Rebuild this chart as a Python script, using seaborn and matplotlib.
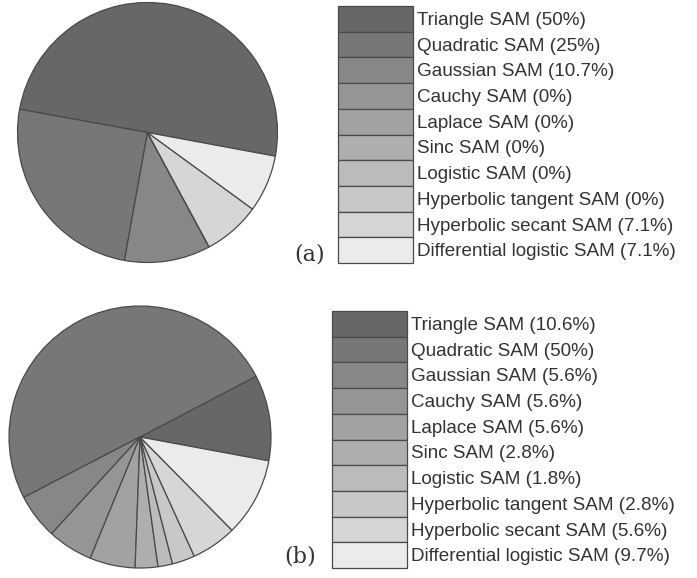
import matplotlib
matplotlib.use("Agg")
import matplotlib.pyplot as plt
import seaborn as sns

methods = ["Triangle SAM", "Quadratic SAM", "Gaussian SAM", "Cauchy SAM",
           "Laplace SAM", "Sinc SAM", "Logistic SAM",
           "Hyperbolic tangent SAM", "Hyperbolic secant SAM",
           "Differential logistic SAM"]
share_a = [50, 25, 10.7, 0, 0, 0, 0, 0, 7.1, 7.1]
share_b = [10.6, 50, 5.6, 5.6, 5.6, 2.8, 1.8, 2.8, 5.6, 9.7]
panel_tags = ["(a)", "(b)"]

sns.set_theme(style="white")
plt.rcParams["font.family"] = ["Liberation Sans", "DejaVu Sans"]

grays = ["#676767", "#777777", "#878787", "#959595", "#a2a2a2",
         "#aeaeae", "#bbbbbb", "#c8c8c8", "#d6d6d6", "#ebebeb"]
edge = "#4a4a4a"

W, H = 697, 578
fig = plt.figure(figsize=(W / 100, H / 100), dpi=100)

def fx(px):
    return px / W

def fy(py):
    return 1 - py / H

panels = [
    # center x, center y, radius, legend left, legend top, tag x, tag y
    (share_a, 147.5, 132.5, 130, 338, 6, 310, 255),
    (share_b, 140, 437, 131, 332, 311, 300, 557),
]

for (vals, cx, cy, r, lx, ly, tx, ty), tag in zip(panels, panel_tags):
    ax = fig.add_axes([fx(cx - r), fy(cy + r), (2 * r) / W, (2 * r) / H])
    wedges, _ = ax.pie(vals, colors=grays, startangle=-10.5, counterclock=True,
                       wedgeprops=dict(edgecolor=edge, linewidth=0.9))
    ax.set_xlim(-1.0, 1.0)
    ax.set_ylim(-1.0, 1.0)
    ax.set_aspect("equal")
    ax.axis("off")
    labels = [f"{m} ({v:g}%)" for m, v in zip(methods, vals)]
    fs = 13.6
    fs_px = fs * 100 / 72
    row_px = 25.7
    hh = (row_px / fs_px - 0.245) / 0.65
    ax.legend(wedges, labels, loc="upper left",
              bbox_to_anchor=(fx(lx), fy(ly)), bbox_transform=fig.transFigure,
              frameon=False, fontsize=fs, borderpad=0, borderaxespad=0,
              labelspacing=0, handleheight=hh,
              handlelength=75 / fs_px, handletextpad=0.22,
              labelcolor="#333333")
    fig.text(fx(tx), fy(ty), tag, ha="center", va="center",
             fontsize=16, family=["DejaVu Serif"], color="#333333")

fig.savefig("out.png", dpi=100, facecolor="white")
